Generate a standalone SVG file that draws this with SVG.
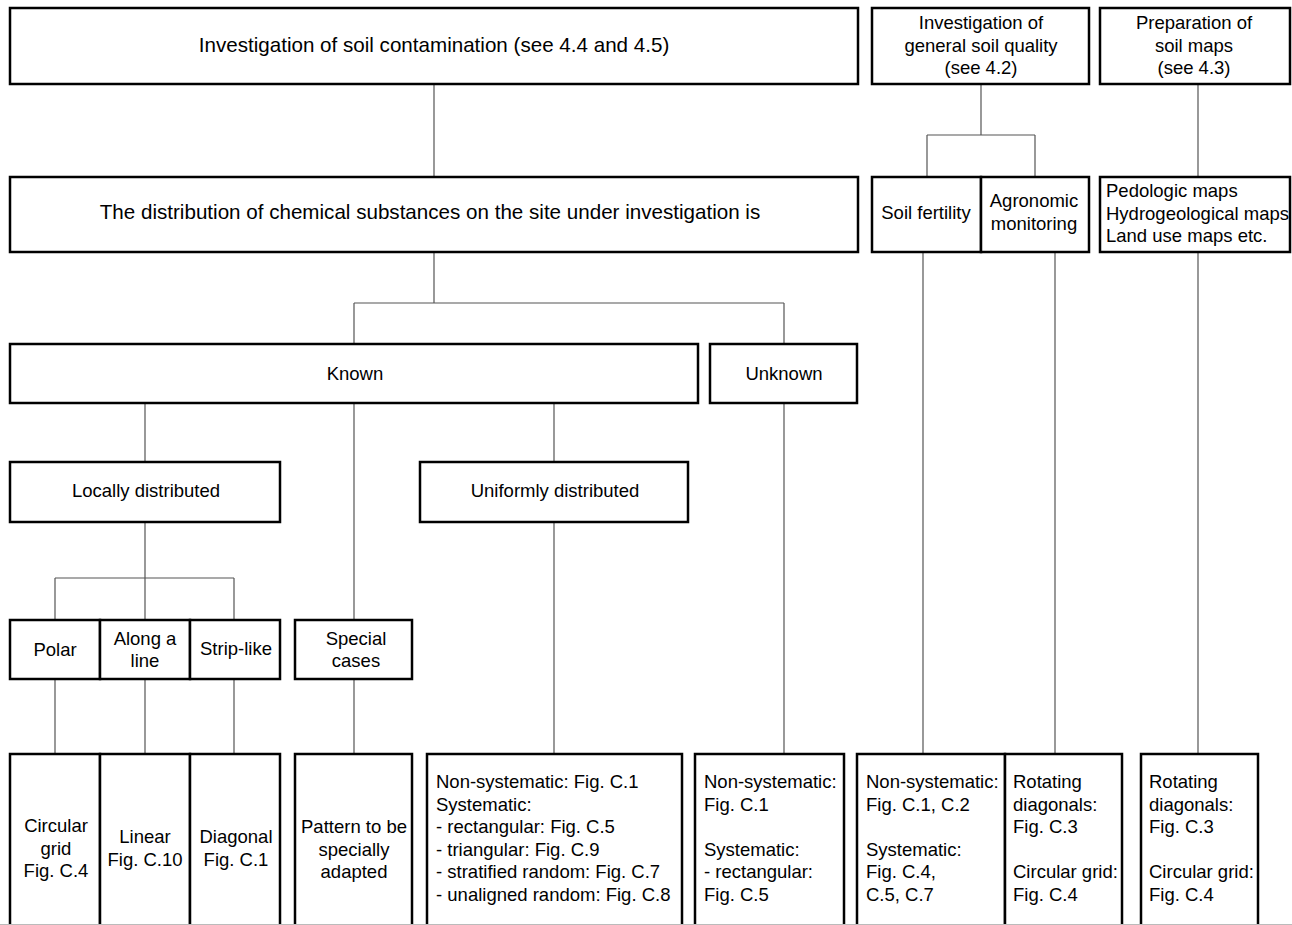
<svg xmlns="http://www.w3.org/2000/svg" width="1292" height="925" viewBox="0 0 1292 925">
<style>
.b{fill:#fff;stroke:#000;stroke-width:2.5}
.c{fill:none;stroke:#555;stroke-width:1.2}
text{font-family:"Liberation Sans",Arial,sans-serif;font-size:18.5px;fill:#000}
.big{font-size:20.6px}
.m{text-anchor:middle}
</style>
<rect x="0" y="0" width="1292" height="925" fill="#fff"/>
<g id="connectors">
<path class="c" d="M434 84V177M434 252V303M354 303H784M354 303V344M784 303V344"/>
<path class="c" d="M981 84V135M927 135H1035M927 135V177M1035 135V177M1198 84V177"/>
<path class="c" d="M145 403V462M354 403V620M554 403V462M784 403V754"/>
<path class="c" d="M145 522V578M55 578H234M55 578V620M145 578V620M234 578V620"/>
<path class="c" d="M55 679V754M145 679V754M234 679V754M354 679V754M554 522V754"/>
<path class="c" d="M923 252V754M1055 252V754M1198 252V754"/>
</g>
<g id="n-contamination"><rect class="b" x="10" y="8" width="848" height="76"/><text class="big m" x="434" y="52">Investigation of soil contamination (see 4.4 and 4.5)</text></g>
<g id="n-general"><rect class="b" x="872" y="8" width="217" height="76"/><text class="m" x="981" y="29">Investigation of</text><text class="m" x="981" y="51.5">general soil quality</text><text class="m" x="981" y="74">(see 4.2)</text></g>
<g id="n-maps"><rect class="b" x="1100" y="8" width="190" height="76"/><text class="m" x="1194" y="29">Preparation of</text><text class="m" x="1194" y="51.5">soil maps</text><text class="m" x="1194" y="74">(see 4.3)</text></g>
<g id="n-distribution"><rect class="b" x="10" y="177" width="848" height="75"/><text class="big m" x="430" y="219">The distribution of chemical substances on the site under investigation is</text></g>
<g id="n-fertility"><rect class="b" x="872" y="177" width="109" height="75"/><text class="m" x="926" y="219">Soil fertility</text></g>
<g id="n-agronomic"><rect class="b" x="981" y="177" width="108" height="75"/><text class="m" x="1034" y="207">Agronomic</text><text class="m" x="1034" y="229.5">monitoring</text></g>
<g id="n-pedologic"><rect class="b" x="1100" y="177" width="190" height="75"/><text x="1106" y="197">Pedologic maps</text><text x="1106" y="219.5">Hydrogeological maps</text><text x="1106" y="242">Land use maps etc.</text></g>
<g id="n-known"><rect class="b" x="10" y="344" width="688" height="59"/><text class="m" x="355" y="380">Known</text></g>
<g id="n-unknown"><rect class="b" x="710" y="344" width="147" height="59"/><text class="m" x="784" y="380">Unknown</text></g>
<g id="n-locally"><rect class="b" x="10" y="462" width="270" height="60"/><text class="m" x="146" y="497">Locally distributed</text></g>
<g id="n-uniformly"><rect class="b" x="420" y="462" width="268" height="60"/><text class="m" x="555" y="497">Uniformly distributed</text></g>
<g id="n-polar"><rect class="b" x="10" y="620" width="90" height="59"/><text class="m" x="55" y="656">Polar</text></g>
<g id="n-along"><rect class="b" x="100" y="620" width="90" height="59"/><text class="m" x="145" y="645">Along a</text><text class="m" x="145" y="667">line</text></g>
<g id="n-strip"><rect class="b" x="190" y="620" width="90" height="59"/><text class="m" x="236" y="655">Strip-like</text></g>
<g id="n-special"><rect class="b" x="295" y="620" width="117" height="59"/><text class="m" x="356" y="645">Special</text><text class="m" x="356" y="667">cases</text></g>
<g id="n-circular"><rect class="b" x="10" y="754" width="90" height="185"/><text class="m" x="56" y="832">Circular</text><text class="m" x="56" y="854.5">grid</text><text class="m" x="56" y="877">Fig. C.4</text></g>
<g id="n-linear"><rect class="b" x="100" y="754" width="90" height="185"/><text class="m" x="145" y="843">Linear</text><text class="m" x="145" y="865.5">Fig. C.10</text></g>
<g id="n-diagonal"><rect class="b" x="190" y="754" width="90" height="185"/><text class="m" x="236" y="843">Diagonal</text><text class="m" x="236" y="865.5">Fig. C.1</text></g>
<g id="n-pattern"><rect class="b" x="295" y="754" width="117" height="185"/><text class="m" x="354" y="833">Pattern to be</text><text class="m" x="354" y="855.5">specially</text><text class="m" x="354" y="878">adapted</text></g>
<g id="n-uniform-list"><rect class="b" x="427" y="754" width="255" height="185"/><text x="436" y="788">Non-systematic: Fig. C.1</text><text x="436" y="810.5">Systematic:</text><text x="436" y="833">- rectangular: Fig. C.5</text><text x="436" y="855.5">- triangular: Fig. C.9</text><text x="436" y="878">- stratified random: Fig. C.7</text><text x="436" y="900.5">- unaligned random: Fig. C.8</text></g>
<g id="n-unknown-list"><rect class="b" x="695" y="754" width="149" height="185"/><text x="704" y="788">Non-systematic:</text><text x="704" y="810.5">Fig. C.1</text><text x="704" y="855.5">Systematic:</text><text x="704" y="878">- rectangular:</text><text x="704" y="900.5">Fig. C.5</text></g>
<g id="n-fertility-list"><rect class="b" x="857" y="754" width="148" height="185"/><text x="866" y="788">Non-systematic:</text><text x="866" y="810.5">Fig. C.1, C.2</text><text x="866" y="855.5">Systematic:</text><text x="866" y="878">Fig. C.4,</text><text x="866" y="900.5">C.5, C.7</text></g>
<g id="n-agronomic-list"><rect class="b" x="1005" y="754" width="117" height="185"/><text x="1013" y="788">Rotating</text><text x="1013" y="810.5">diagonals:</text><text x="1013" y="833">Fig. C.3</text><text x="1013" y="878">Circular grid:</text><text x="1013" y="900.5">Fig. C.4</text></g>
<g id="n-maps-list"><rect class="b" x="1141" y="754" width="117" height="185"/><text x="1149" y="788">Rotating</text><text x="1149" y="810.5">diagonals:</text><text x="1149" y="833">Fig. C.3</text><text x="1149" y="878">Circular grid:</text><text x="1149" y="900.5">Fig. C.4</text></g>
<line x1="0" y1="924.5" x2="1292" y2="924.5" stroke="#bbb" stroke-width="1"/>
</svg>
